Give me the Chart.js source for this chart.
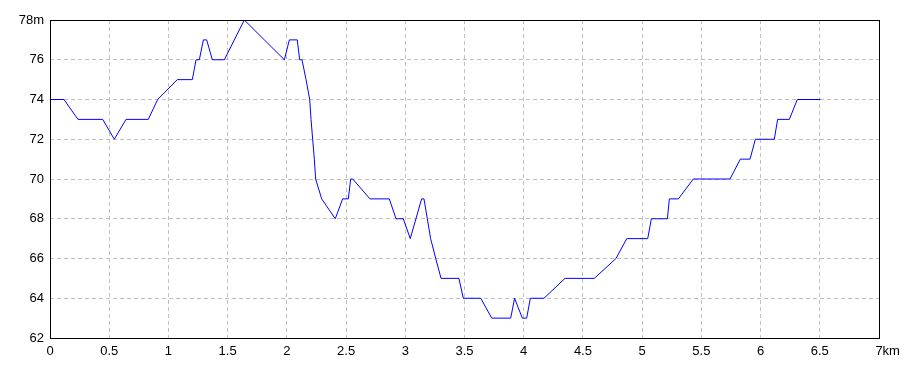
<!DOCTYPE html>
<html>
<head>
<meta charset="utf-8">
<script src="https://cdn.jsdelivr.net/npm/chart.js@4/dist/chart.umd.min.js"></script>
<style>
  html, body { margin: 0; padding: 0; background: #ffffff; }
  #wrap { width: 920px; height: 368px; }
</style>
</head>
<body>
<div id="wrap"><canvas id="c" width="920" height="368"></canvas></div>
<script>
// Distance along the route (km)
const distanceKm = [0, 0.118, 0.236, 0.445, 0.543, 0.642, 0.830, 0.909, 1.075, 1.202,
  1.233, 1.261, 1.295, 1.323, 1.371, 1.472, 1.641, 1.81, 1.979, 2.021,
  2.088, 2.108, 2.128, 2.162, 2.193, 2.204, 2.218, 2.232, 2.243, 2.294,
  2.409, 2.471, 2.519, 2.539, 2.556, 2.702, 2.865, 2.922, 2.983, 3.042,
  3.138, 3.158, 3.186, 3.214, 3.257, 3.302, 3.453, 3.490, 3.637, 3.730,
  3.890, 3.923, 3.988, 4.025, 4.056, 4.171, 4.349, 4.596, 4.779, 4.870,
  5.047, 5.078, 5.213, 5.230, 5.306, 5.432, 5.742, 5.829, 5.911, 5.956,
  6.116, 6.144, 6.243, 6.310, 6.505];
// Elevation (m)
const elevationM = [74, 74, 73, 73, 72, 73, 73, 74, 75, 75,
  76, 76, 77, 77, 76, 76, 78, 77, 76, 77,
  77, 76, 76, 75, 74, 73, 72, 71, 70, 69,
  68, 69, 69, 70, 70, 69, 69, 68, 68, 67,
  69, 69, 68, 67, 66, 65, 65, 64, 64, 63,
  63, 64, 63, 63, 64, 64, 65, 65, 66, 67,
  67, 68, 68, 69, 69, 70, 70, 71, 71, 72,
  72, 73, 73, 74, 74];
// Axis tick labels
const xTicks = [0, 0.5, 1, 1.5, 2, 2.5, 3, 3.5, 4, 4.5, 5, 5.5, 6, 6.5, 7];
const yTicks = [62, 64, 66, 68, 70, 72, 74, 76, 78];
const xUnit = 'km';
const yUnit = 'm';

const points = distanceKm.map((d, i) => ({ x: d, y: elevationM[i] }));
const FONT = { family: '"Liberation Sans", Arial, sans-serif', size: 13 };

const framePlugin = {
  id: 'frame',
  afterDraw(chart) {
    const { ctx, chartArea: a, scales } = chart;
    ctx.save();
    ctx.strokeStyle = '#000000';
    ctx.lineWidth = 1;
    ctx.setLineDash([]);
    ctx.strokeRect(Math.round(a.left) + 0.5, Math.round(a.top) + 0.5,
      Math.round(a.right) - Math.round(a.left), Math.round(a.bottom) - Math.round(a.top));
    // unit after last x tick label
    const xs = scales.x;
    const lastVal = xTicks[xTicks.length - 1];
    const px = xs.getPixelForValue(lastVal);
    ctx.font = FONT.size + 'px ' + FONT.family;
    ctx.fillStyle = '#000000';
    ctx.textBaseline = 'middle';
    ctx.textAlign = 'left';
    const w = ctx.measureText(String(lastVal)).width;
    ctx.fillText(xUnit, px + w / 2, a.bottom + 6 + FONT.size * 0.6);
    ctx.restore();
  }
};

new Chart(document.getElementById('c'), {
  type: 'scatter',
  data: {
    datasets: [{
      data: points,
      showLine: true,
      borderColor: '#0000ff',
      borderWidth: 1,
      pointRadius: 0,
      pointHoverRadius: 0,
      tension: 0,
      fill: false
    }]
  },
  options: {
    responsive: false,
    animation: false,
    devicePixelRatio: 1,
    layout: { padding: { top: 20, right: 41, left: 0, bottom: 0 } },
    plugins: { legend: { display: false }, tooltip: { enabled: false } },
    scales: {
      x: {
        type: 'linear',
        min: xTicks[0],
        max: xTicks[xTicks.length - 1],
        afterBuildTicks(scale) { scale.ticks = xTicks.map(v => ({ value: v })); },
        afterFit(scale) { scale.height = 30; },
        ticks: {
          color: '#000000',
          font: FONT,
          padding: 6,
          maxRotation: 0,
          autoSkip: false,
          callback: v => String(v)
        },
        grid: {
          color: ctx => (ctx.tick && (ctx.tick.value === xTicks[0] || ctx.tick.value === xTicks[xTicks.length - 1])) ? 'rgba(0,0,0,0)' : '#c0c0c0',
          lineWidth: 1,
          drawTicks: false
        },
        border: { display: false, dash: [4, 3] }
      },
      y: {
        type: 'linear',
        min: yTicks[0],
        max: yTicks[yTicks.length - 1],
        afterBuildTicks(scale) { scale.ticks = yTicks.map(v => ({ value: v })); },
        afterFit(scale) { scale.width = 50; },
        ticks: {
          color: '#000000',
          font: FONT,
          padding: 6,
          autoSkip: false,
          callback: v => (v === yTicks[yTicks.length - 1] ? v + yUnit : String(v))
        },
        grid: {
          color: ctx => (ctx.tick && (ctx.tick.value === yTicks[0] || ctx.tick.value === yTicks[yTicks.length - 1])) ? 'rgba(0,0,0,0)' : '#c0c0c0',
          lineWidth: 1,
          drawTicks: false
        },
        border: { display: false, dash: [4, 3] }
      }
    }
  },
  plugins: [framePlugin]
});
</script>
</body>
</html>
